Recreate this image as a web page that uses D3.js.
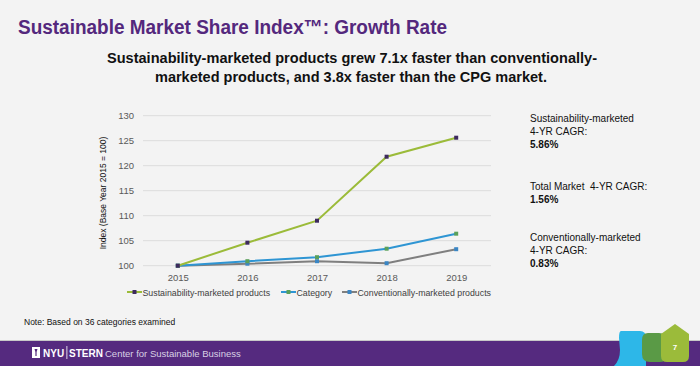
<!DOCTYPE html>
<html><head><meta charset="utf-8">
<script src="https://cdn.jsdelivr.net/npm/d3@7"></script>
<style>html,body{margin:0;padding:0;background:#f3f3f3;}svg{display:block;font-family:"Liberation Sans",Arial,sans-serif;}</style>
</head><body>
<svg id="c" width="700" height="366"></svg>
<script>
const years = ["2015","2016","2017","2018","2019"];
const sustainable = [100, 104.6, 109.0, 121.8, 125.6];
const category = [100, 100.9, 101.7, 103.4, 106.4];
const conventional = [100, 100.4, 100.9, 100.5, 103.3];
const yTicks = [100, 105, 110, 115, 120, 125, 130];
const seriesNames = ["Sustainability-marketed products", "Category", "Conventionally-marketed products"];
const seriesLine = ["#9bbb39", "#2e95d3", "#7f7f7f"];
const seriesMarker = ["#3d2a5e", "#5aa05a", "#3b86c4"];
const notes = [
  {lines:["Sustainability-marketed","4-YR CAGR:"], value:"5.86%"},
  {lines:["Total Market\u00a0 4-YR CAGR:"], value:"1.56%"},
  {lines:["Conventionally-marketed","4-YR CAGR:"], value:"0.83%"}
];

const svg = d3.select("#c");
svg.append("rect").attr("width",700).attr("height",366).attr("fill","#f3f3f3");

// Title
svg.append("text").attr("x",18).attr("y",34).attr("fill","#54287d")
  .attr("font-size",20).attr("font-weight","bold")
  .attr("textLength",429).attr("lengthAdjust","spacingAndGlyphs")
  .text("Sustainable Market Share Index\u2122: Growth Rate");
svg.append("text").attr("x",107).attr("y",63)
  .attr("font-size",15.5).attr("font-weight","bold").attr("fill","#111")
  .attr("textLength",490).attr("lengthAdjust","spacingAndGlyphs")
  .text("Sustainability-marketed products grew 7.1x faster than conventionally-");
svg.append("text").attr("x",155).attr("y",82)
  .attr("font-size",15.5).attr("font-weight","bold").attr("fill","#111")
  .attr("textLength",392).attr("lengthAdjust","spacingAndGlyphs")
  .text("marketed products, and 3.8x faster than the CPG market.");

// Chart
const x = d3.scalePoint().domain(years).range([143,491]).padding(0.5);
const y = d3.scaleLinear().domain([100,130]).range([265.7,115.7]);

const g = svg.append("g");
g.selectAll("line.grid").data(yTicks).join("line")
  .attr("x1",143).attr("x2",491).attr("y1",d=>y(d)).attr("y2",d=>y(d))
  .attr("stroke","#dcdcdc").attr("stroke-width",1);

const yAxis = g.append("g").attr("transform","translate(143,0)")
  .call(d3.axisLeft(y).tickValues(yTicks).tickSize(0).tickPadding(9));
yAxis.select(".domain").remove();
yAxis.selectAll("text").attr("font-size",9.5).attr("fill","#595959").attr("font-family","Liberation Sans, Arial, sans-serif");

const xAxis = g.append("g").attr("transform","translate(0,265.7)")
  .call(d3.axisBottom(x).tickSize(0).tickPadding(9));
xAxis.select(".domain").remove();
xAxis.selectAll("text").attr("font-size",9.5).attr("fill","#595959").attr("font-family","Liberation Sans, Arial, sans-serif");

svg.append("text").attr("transform","translate(106,193) rotate(-90)")
  .attr("text-anchor","middle").attr("font-size",8.5).attr("fill","#111")
  .text("Index (Base Year 2015 = 100)");

const allSeries = [sustainable, category, conventional];
const line = d3.line().x((d,i)=>x(years[i])).y(d=>y(d));
[2,1,0].forEach(k=>{
  g.append("path").datum(allSeries[k]).attr("d",line).attr("fill","none")
    .attr("stroke",seriesLine[k]).attr("stroke-width",2);
  g.selectAll("rect.m"+k).data(allSeries[k]).join("rect")
    .attr("x",(d,i)=>x(years[i])-2).attr("y",d=>y(d)-2)
    .attr("width",4).attr("height",4).attr("fill",seriesMarker[k]);
});

// Legend
const legX = [127, 281, 342];
const leg = svg.append("g");
seriesNames.forEach((n,k)=>{
  const lx = legX[k];
  leg.append("line").attr("x1",lx).attr("x2",lx+15).attr("y1",292).attr("y2",292)
    .attr("stroke",seriesLine[k]).attr("stroke-width",2);
  leg.append("rect").attr("x",lx+5.5).attr("y",290).attr("width",4).attr("height",4).attr("fill",seriesMarker[k]);
  leg.append("text").attr("x",lx+15.5).attr("y",295.5).attr("font-size",8.8).attr("fill","#404040").text(n);
});

// Right notes
const noteY = [122, 190, 241];
notes.forEach((nt,i)=>{
  let yy = noteY[i];
  nt.lines.forEach(l=>{
    svg.append("text").attr("x",530).attr("y",yy).attr("font-size",10).attr("fill","#111").text(l);
    yy += 13;
  });
  svg.append("text").attr("x",530).attr("y",yy).attr("font-size",10).attr("font-weight","bold").attr("fill","#111").text(nt.value);
});

svg.append("text").attr("x",24).attr("y",325).attr("font-size",8.5).attr("fill","#111")
  .text("Note: Based on 36 categories examined");

// Footer
svg.append("rect").attr("x",0).attr("y",340).attr("width",700).attr("height",1).attr("fill","#c8c8c8");
svg.append("rect").attr("x",0).attr("y",341).attr("width",700).attr("height",25).attr("fill","#552a7f");
svg.append("rect").attr("x",32).attr("y",347).attr("width",8).attr("height",11).attr("fill","#ffffff");
svg.append("path").attr("d","M34.5,349 L37.5,349 L36.6,352 L36.6,356 L35.4,356 L35.4,352 Z").attr("fill","#552a7f");
svg.append("text").attr("x",43).attr("y",357).attr("font-size",10).attr("font-weight","bold").attr("fill","#fff").text("NYU");
svg.append("rect").attr("x",66.5).attr("y",346).attr("width",0.8).attr("height",13).attr("fill","#fff");
svg.append("text").attr("x",69).attr("y",357).attr("font-size",10).attr("font-weight","bold").attr("fill","#fff").text("STERN");
svg.append("text").attr("x",105).attr("y",357).attr("font-size",9.5).attr("fill","#d8d0e4").text("Center for Sustainable Business");

// Logo shapes
svg.append("path").attr("d","M621,331 L640,331 Q646,331 646,338 L646,366 L614,366 Q620,360 620,350 L619,338 Q619,331 621,331 Z").attr("fill","#2db7e8");
svg.append("path").attr("d","M648,333 L659,333 Q666,333 666,340 L666,356 Q666,362 660,362 L650,362 Q642,362 642,354 L642,340 Q642,333 648,333 Z").attr("fill","#5a9a46");
svg.append("path").attr("d","M675,324 L689,334 L689,356 Q689,362 683,362 L667,362 Q661,362 661,356 L661,334 Z").attr("fill","#9bbb3a");
svg.append("text").attr("x",675).attr("y",350).attr("text-anchor","middle").attr("font-size",8).attr("font-weight","bold").attr("fill","#fff").text("7");
</script>
</body></html>
